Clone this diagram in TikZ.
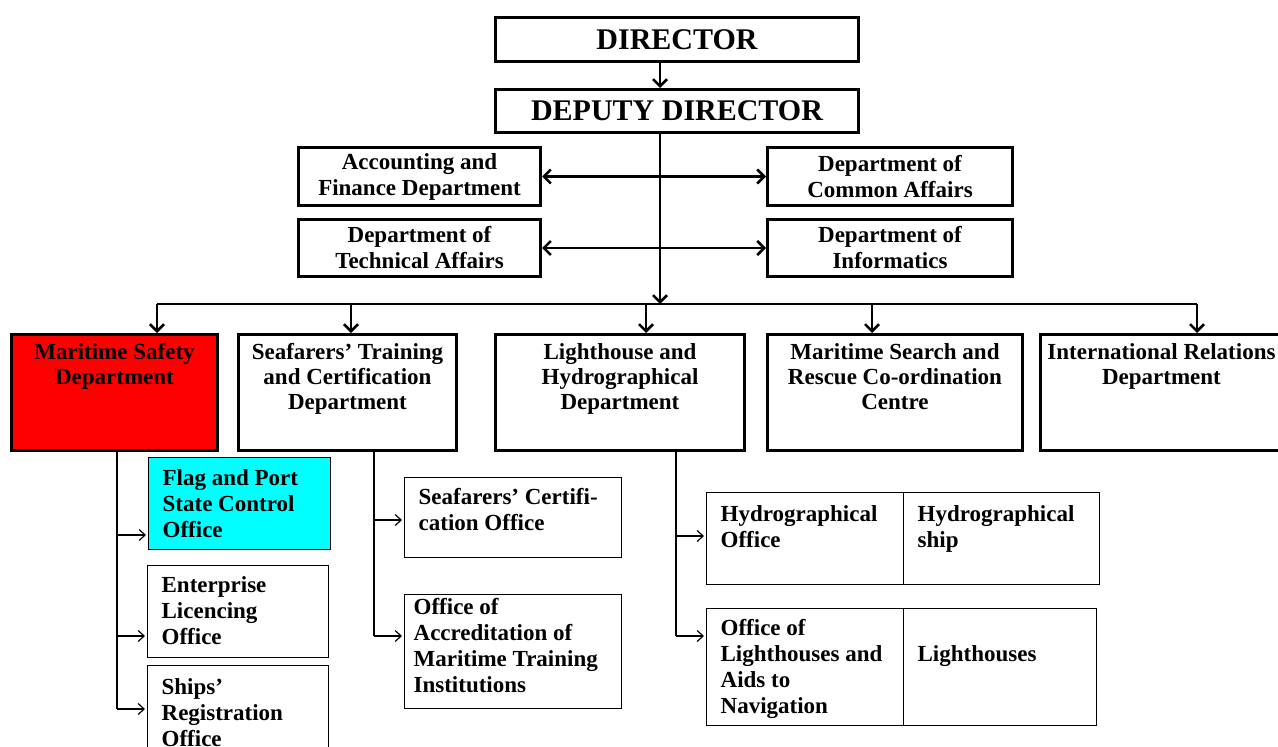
\documentclass[tikz,border=0pt]{standalone}
\usepackage{fontspec}
\setmainfont{Liberation Serif}
\usetikzlibrary{arrows.meta}

\definecolor{safetyred}{RGB}{255,0,0}
\definecolor{pscyan}{RGB}{0,255,255}

% font sizes for the three tiers
\newcommand\orgtitle{\fontsize{30}{34}\selectfont\bfseries}
\newcommand\orgmid{\fontsize{23}{26}\selectfont\bfseries}
\newcommand\orgdept{\fontsize{23}{25}\selectfont\bfseries}
\newcommand\orgunit{\fontsize{23}{26}\selectfont\bfseries}

% department box contents: width, height, lines (centred, hung from the top)
\newcommand\deptext[3]{\parbox[c][#2][t]{#1}{\centering\rule{0pt}{25pt}#3}}
% office box contents: width, height, first baseline, lines (flush left)
\newcommand\offtext[4]{\parbox[c][#2][t]{#1}{\raggedright\rule{0pt}{#3}#4}}

\begin{document}
\begin{tikzpicture}[x=1pt,y=-1pt,
  box/.style={draw,line width=3pt,inner sep=0pt,anchor=north west,fill=white},
  obox/.style={draw,line width=1.3pt,inner sep=0pt,anchor=north west,fill=white},
  link/.style={line width=2.5pt,-{Straight Barb[length=7pt,width=14pt]}},
  twoway/.style={line width=2.5pt,{Straight Barb[length=7pt,width=14pt]}-{Straight Barb[length=7pt,width=14pt]}},
  trunk/.style={line width=1.2pt},
  branch/.style={line width=1.2pt,-{Straight Barb[length=6pt,width=11pt]},shorten >=2pt},
]
\useasboundingbox (0,0) rectangle (1278,747);

% --- top management
\node[box,minimum width=363pt,minimum height=44pt,font=\orgtitle] (dir) at (494,16) {DIRECTOR};
\node[box,minimum width=363pt,minimum height=43pt,font=\orgtitle] (dep) at (494,88) {DEPUTY DIRECTOR};

% --- staff departments
\node[box,minimum width=242pt,minimum height=58pt,font=\orgmid,align=center] (acc) at (297,146) {Accounting and\\Finance Department};
\node[box,minimum width=245pt,minimum height=58pt,font=\orgmid,align=center] (com) at (766,146) {Department of\\Common Affairs};
\node[box,minimum width=242pt,minimum height=57pt,font=\orgmid,align=center] (tech) at (297,218) {Department of\\Technical Affairs};
\node[box,minimum width=245pt,minimum height=57pt,font=\orgmid,align=center] (inf) at (766,218) {Department of\\Informatics};

% --- line departments
\node[box,fill=safetyred,font=\orgdept,minimum width=206pt,minimum height=116pt] (msd) at (10,333)
  {\deptext{206pt}{116pt}{Maritime Safety\\Department}};
\node[box,font=\orgdept,minimum width=218pt,minimum height=116pt] (stc) at (237,333)
  {\deptext{218pt}{116pt}{Seafarers’ Training\\and Certification\\Department}};
\node[box,font=\orgdept,minimum width=249pt,minimum height=116pt] (lhd) at (494,333)
  {\deptext{249pt}{116pt}{Lighthouse and\\Hydrographical\\Department}};
\node[box,font=\orgdept,minimum width=255pt,minimum height=116pt] (sar) at (766,333)
  {\deptext{255pt}{116pt}{Maritime Search and\\Rescue Co-ordination\\Centre}};
\node[box,font=\orgdept,minimum width=242pt,minimum height=116pt] (ird) at (1039,333)
  {\deptext{242pt}{116pt}{International Relations\\Department}};

% --- offices
\node[obox,fill=pscyan,font=\orgunit,minimum width=182pt,minimum height=92pt] (fps) at (148,457)
  {\offtext{154pt}{92pt}{28pt}{Flag and Port\\State Control\\Office}};
\node[obox,font=\orgunit,minimum width=181pt,minimum height=92pt] (elo) at (147,565)
  {\offtext{153pt}{92pt}{27pt}{Enterprise\\Licencing\\Office}};
\node[obox,font=\orgunit,minimum width=181pt,minimum height=95pt] (sro) at (147,665)
  {\offtext{153pt}{95pt}{29pt}{Ships’\\Registration\\Office}};
\node[obox,font=\orgunit,minimum width=217pt,minimum height=80pt] (sco) at (404,477)
  {\offtext{189pt}{80pt}{27pt}{Seafarers’ Certifi-\\cation Office}};
\node[obox,font=\orgunit,minimum width=217pt,minimum height=114pt] (oam) at (404,594)
  {\offtext{199pt}{114pt}{20pt}{Office of\\Accreditation of\\Maritime Training\\Institutions}};
\node[obox,font=\orgunit,minimum width=197pt,minimum height=92pt] (hyo) at (706,492)
  {\offtext{169pt}{92pt}{29pt}{Hydrographical\\Office}};
\node[obox,font=\orgunit,minimum width=196pt,minimum height=92pt] (hys) at (903,492)
  {\offtext{168pt}{92pt}{29pt}{Hydrographical\\ship}};
\node[obox,font=\orgunit,minimum width=197pt,minimum height=117pt] (olh) at (706,608)
  {\offtext{169pt}{117pt}{27pt}{Office of\\Lighthouses and\\Aids to\\Navigation}};
\node[obox,font=\orgunit,minimum width=193pt,minimum height=117pt] (lgh) at (903,608)
  {\offtext{165pt}{117pt}{53pt}{Lighthouses}};

% --- main chain of command
\coordinate (spine) at (660,0);
\coordinate (bus) at (0,304);
\draw[link] (dir.south -| spine) -- (dep.north -| spine);
\draw[link] (dep.south -| spine) -- (spine |- bus);
\draw[twoway] (acc.east) -- (com.west);
\draw[twoway] (tech.east) -- (inf.west);

% --- distribution bus to the line departments
\coordinate (b1) at (157,304);
\coordinate (b2) at (351,304);
\coordinate (b3) at (646,304);
\coordinate (b4) at (872,304);
\coordinate (b5) at (1197,304);
\draw[line width=2.5pt] (b1) -- (b5);
\draw[link] (b1) -- (msd.north -| b1);
\draw[link] (b2) -- (stc.north -| b2);
\draw[link] (b3) -- (lhd.north -| b3);
\draw[link] (b4) -- (sar.north -| b4);
\draw[link] (b5) -- (ird.north -| b5);

% --- offices under the maritime safety department
\coordinate (m0) at (117,0);
\coordinate (m1) at (117,535);
\coordinate (m2) at (117,636);
\coordinate (m3) at (117,709);
\draw[trunk] (msd.south -| m0) -- (m3);
\draw[branch] (m1) -- (fps.west |- m1);
\draw[branch] (m2) -- (elo.west |- m2);
\draw[branch] (m3) -- (sro.west |- m3);

% --- offices under the training and certification department
\coordinate (s0) at (374,0);
\coordinate (s1) at (374,520);
\coordinate (s2) at (374,636);
\draw[trunk] (stc.south -| s0) -- (s2);
\draw[branch] (s1) -- (sco.west |- s1);
\draw[branch] (s2) -- (oam.west |- s2);

% --- offices under the lighthouse and hydrographical department
\coordinate (l0) at (676,0);
\coordinate (l1) at (676,536);
\coordinate (l2) at (676,636);
\draw[trunk] (lhd.south -| l0) -- (l2);
\draw[branch] (l1) -- (hyo.west |- l1);
\draw[branch] (l2) -- (olh.west |- l2);
\end{tikzpicture}
\end{document}
